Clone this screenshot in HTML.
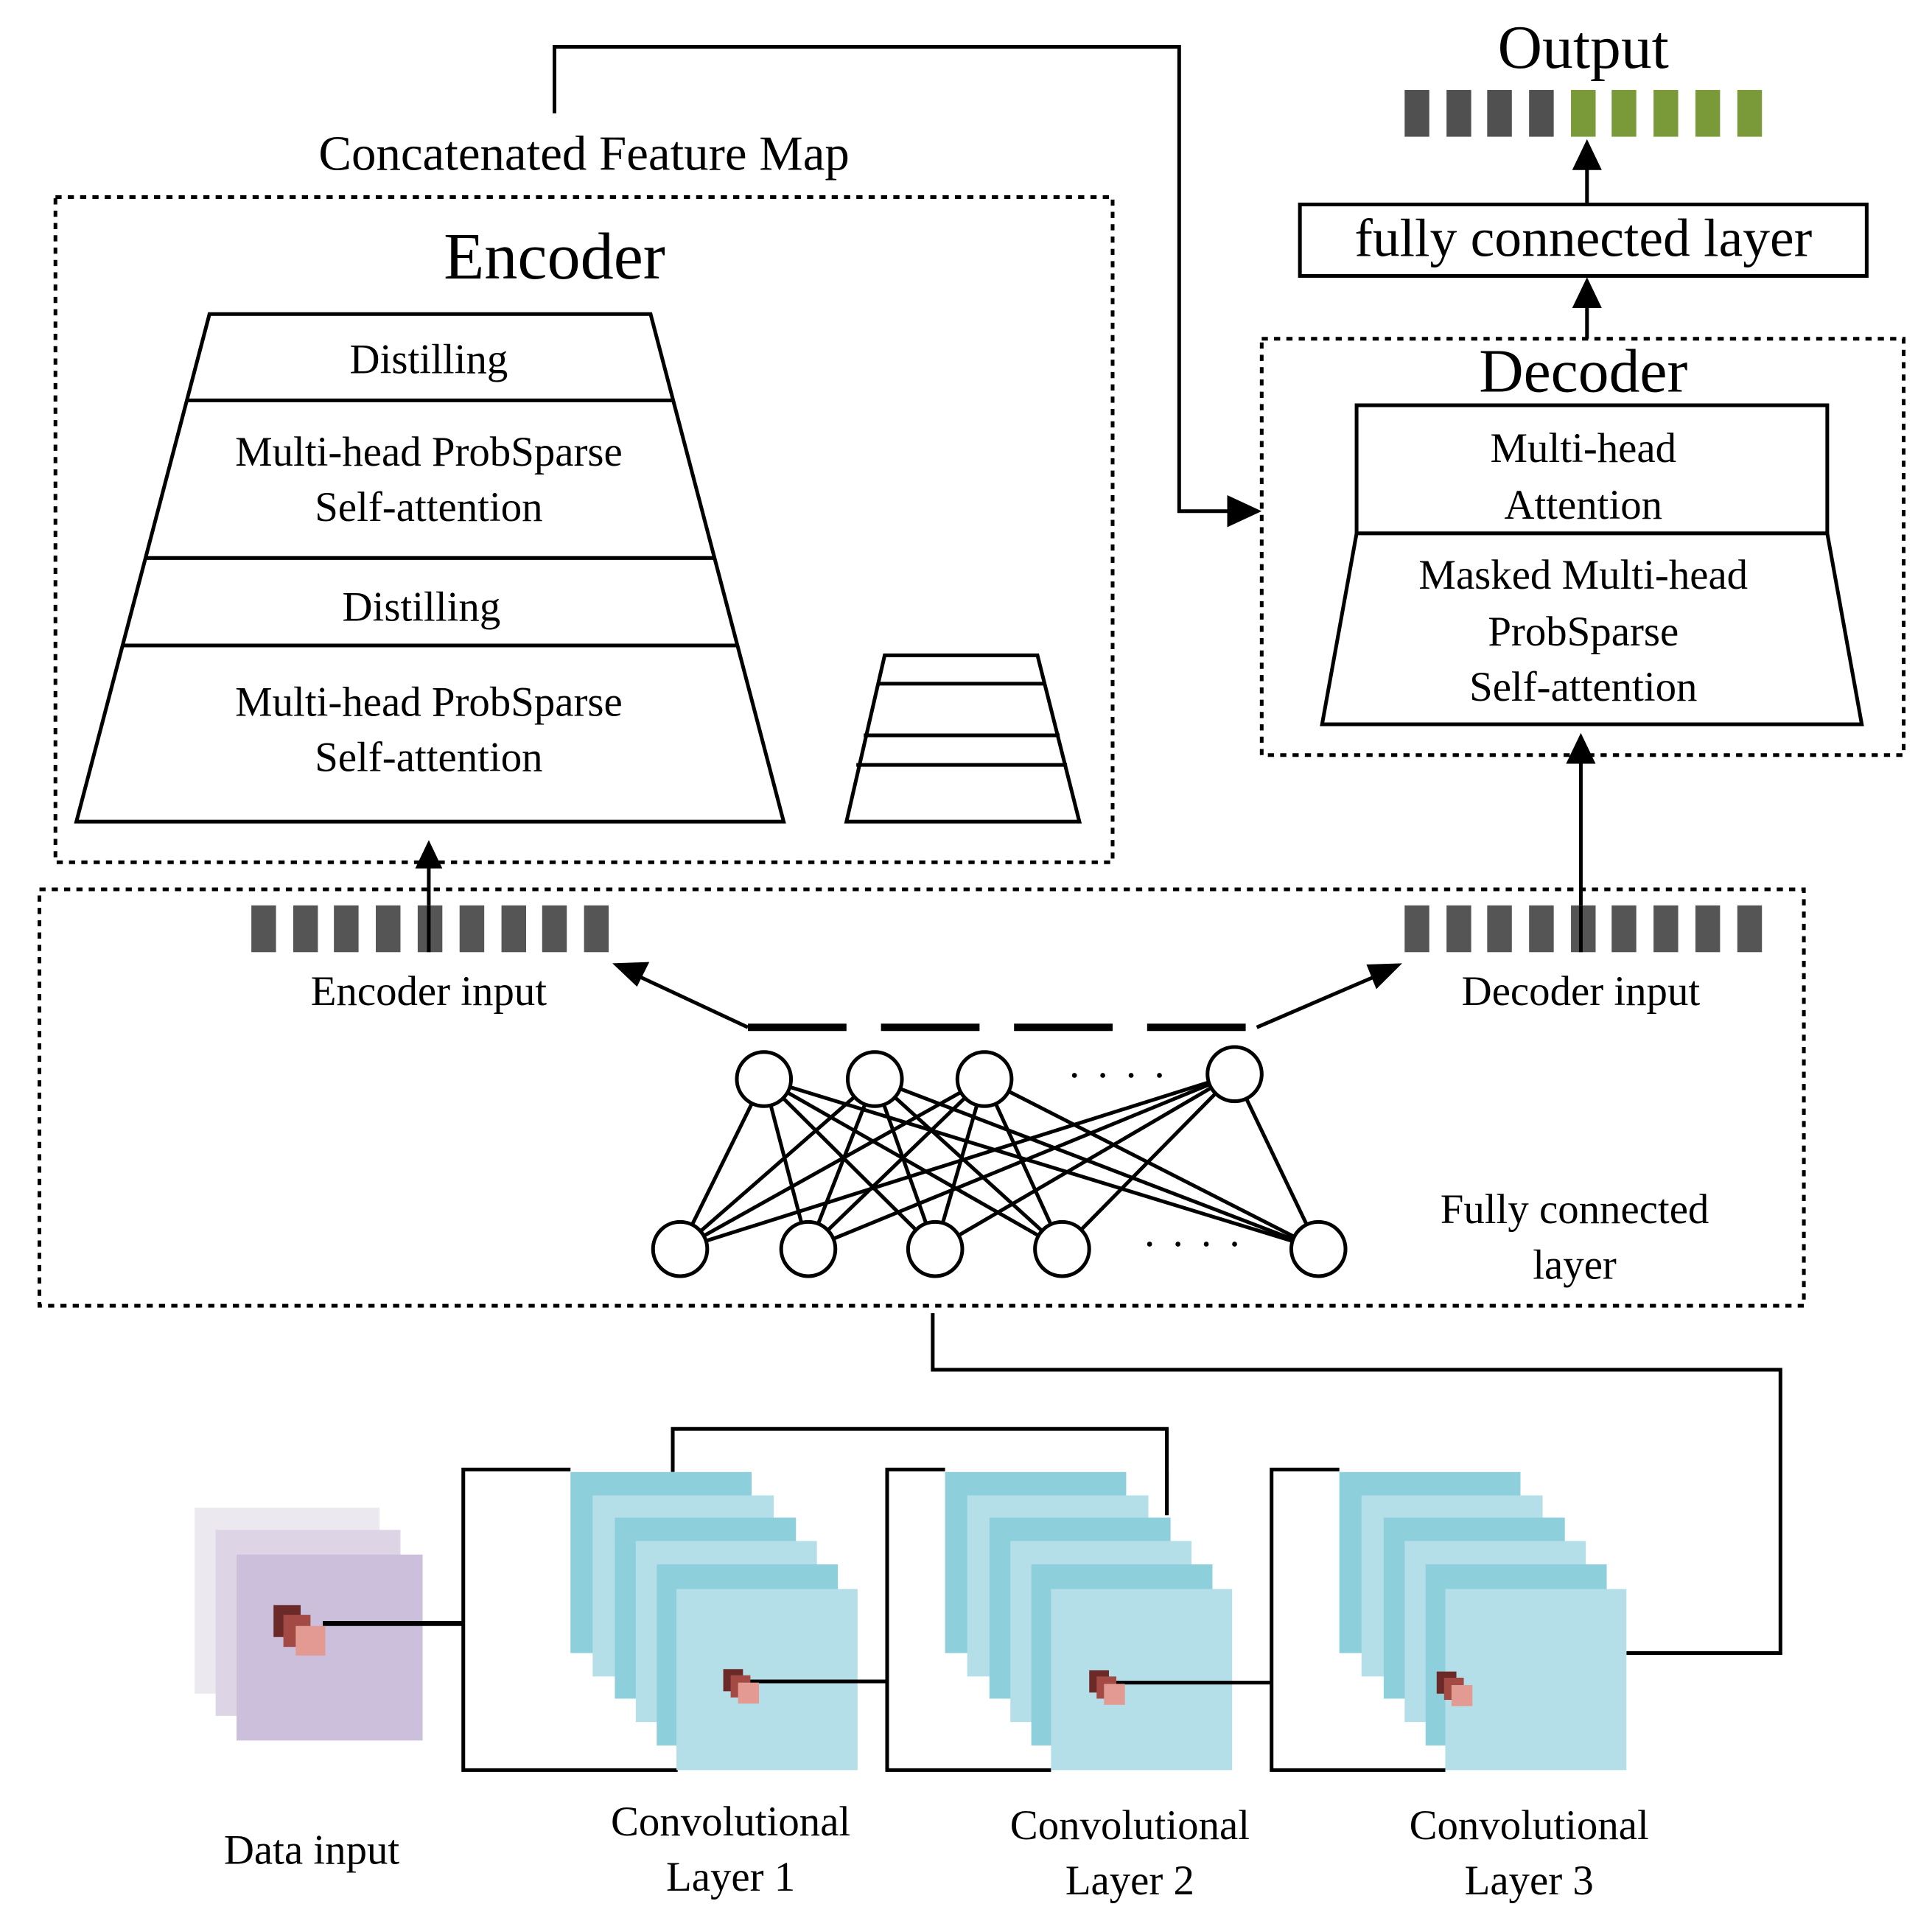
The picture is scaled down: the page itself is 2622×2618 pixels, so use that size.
<!DOCTYPE html>
<html><head><meta charset="utf-8"><style>
html,body{margin:0;padding:0;background:#fff}
svg{display:block}
text{font-family:"Liberation Serif",serif;fill:#000}
</style></head><body>
<svg width="2622" height="2618" viewBox="0 0 1568 1566" preserveAspectRatio="none" xmlns="http://www.w3.org/2000/svg">
<rect width="1568" height="1566" fill="#fff"/>
<polyline points="450,92 450,38 957,38 957,415 996,415" fill="none" stroke="#000" stroke-width="3"/>
<path d="M996,402 L1024,415 L996,428 z"/>
<text x="474" y="138" font-size="40" text-anchor="middle">Concatenated Feature Map</text>
<rect x="45" y="160" width="858" height="540" fill="none" stroke="#000" stroke-width="3" stroke-dasharray="5,5"/>
<text x="450" y="226" font-size="54" text-anchor="middle">Encoder</text>
<polygon points="170,255 528,255 636,667 62,667" fill="#fff" stroke="#000" stroke-width="3"/>
<line x1="152" y1="325" x2="546" y2="325" stroke="#000" stroke-width="3"/>
<line x1="118" y1="453" x2="580" y2="453" stroke="#000" stroke-width="3"/>
<line x1="100" y1="524" x2="598" y2="524" stroke="#000" stroke-width="3"/>
<g font-size="34" text-anchor="middle">
<text x="348" y="303">Distilling</text>
<text x="348" y="378">Multi-head ProbSparse</text>
<text x="348" y="423">Self-attention</text>
<text x="342" y="504">Distilling</text>
<text x="348" y="581">Multi-head ProbSparse</text>
<text x="348" y="626">Self-attention</text>
</g>
<polygon points="718,532 842,532 876,667 687,667" fill="#fff" stroke="#000" stroke-width="3"/>
<line x1="712" y1="555" x2="848" y2="555" stroke="#000" stroke-width="3"/>
<line x1="701" y1="597" x2="860" y2="597" stroke="#000" stroke-width="3"/>
<line x1="695" y1="621" x2="866" y2="621" stroke="#000" stroke-width="3"/>
<text x="1285" y="55" font-size="50" text-anchor="middle">Output</text>
<g fill="#505050">
<rect x="1140" y="73" width="20" height="38"/><rect x="1174" y="73" width="20" height="38"/><rect x="1207" y="73" width="20" height="38"/><rect x="1241" y="73" width="20" height="38"/>
</g>
<g fill="#7a9a3a">
<rect x="1275" y="73" width="20" height="38"/><rect x="1308" y="73" width="20" height="38"/><rect x="1342" y="73" width="20" height="38"/><rect x="1376" y="73" width="20" height="38"/><rect x="1410" y="73" width="20" height="38"/>
</g>
<line x1="1288" y1="166" x2="1288" y2="135" stroke="#000" stroke-width="3"/><path d="M1276,138 L1288,113 L1300,138 z"/>
<rect x="1055" y="166" width="460" height="58" fill="#fff" stroke="#000" stroke-width="3"/>
<text x="1285" y="208" font-size="44" text-anchor="middle">fully connected layer</text>
<line x1="1288" y1="275" x2="1288" y2="248" stroke="#000" stroke-width="3"/><path d="M1276,250 L1288,225 L1300,250 z"/>
<rect x="1024" y="275" width="521" height="338" fill="none" stroke="#000" stroke-width="3" stroke-dasharray="5,5"/>
<text x="1285" y="318" font-size="50" text-anchor="middle">Decoder</text>
<rect x="1101" y="329" width="382" height="104" fill="#fff" stroke="#000" stroke-width="3"/>
<polygon points="1101,433 1483,433 1511,588 1073,588" fill="#fff" stroke="#000" stroke-width="3"/>
<g font-size="34" text-anchor="middle">
<text x="1285" y="375">Multi-head</text>
<text x="1285" y="421">Attention</text>
<text x="1285" y="478">Masked Multi-head</text>
<text x="1285" y="524">ProbSparse</text>
<text x="1285" y="569">Self-attention</text>
</g>
<line x1="1283" y1="735" x2="1283" y2="618" stroke="#000" stroke-width="3"/><path d="M1271,620 L1283,595 L1295,620 z"/>
<line x1="348" y1="735" x2="348" y2="702" stroke="#000" stroke-width="3"/><path d="M337,705 L348,682 L359,705 z"/>
<rect x="32" y="722" width="1432" height="338" fill="none" stroke="#000" stroke-width="3" stroke-dasharray="5,5"/>
<g fill="#555">
<rect x="204" y="735" width="20" height="38"/><rect x="238" y="735" width="20" height="38"/><rect x="271" y="735" width="20" height="38"/><rect x="305" y="735" width="20" height="38"/><rect x="339" y="735" width="20" height="38"/><rect x="373" y="735" width="20" height="38"/><rect x="407" y="735" width="20" height="38"/><rect x="440" y="735" width="20" height="38"/><rect x="474" y="735" width="20" height="38"/>
<rect x="1140" y="735" width="20" height="38"/><rect x="1174" y="735" width="20" height="38"/><rect x="1207" y="735" width="20" height="38"/><rect x="1241" y="735" width="20" height="38"/><rect x="1275" y="735" width="20" height="38"/><rect x="1308" y="735" width="20" height="38"/><rect x="1342" y="735" width="20" height="38"/><rect x="1376" y="735" width="20" height="38"/><rect x="1410" y="735" width="20" height="38"/>
</g>
<line x1="348" y1="735" x2="348" y2="773" stroke="#000" stroke-width="3"/>
<line x1="1283" y1="735" x2="1283" y2="773" stroke="#000" stroke-width="3"/>
<g font-size="34" text-anchor="middle">
<text x="348" y="816">Encoder input</text>
<text x="1283" y="816">Decoder input</text>
</g>
<line x1="607" y1="834" x2="1020" y2="834" stroke="#000" stroke-width="6" stroke-dasharray="80,28"/>
<line x1="607" y1="834" x2="515" y2="791" stroke="#000" stroke-width="3"/><path d="M497,782 L527,781 L517,801 z"/>
<line x1="1020" y1="834" x2="1120" y2="791" stroke="#000" stroke-width="3"/><path d="M1138,782 L1117,803 L1109,783 z"/>
<g stroke="#000" stroke-width="3">
<line x1="620" y1="876" x2="552" y2="1014"/><line x1="620" y1="876" x2="656" y2="1014"/><line x1="620" y1="876" x2="759" y2="1014"/><line x1="620" y1="876" x2="862" y2="1014"/><line x1="620" y1="876" x2="1070" y2="1014"/>
<line x1="710" y1="876" x2="552" y2="1014"/><line x1="710" y1="876" x2="656" y2="1014"/><line x1="710" y1="876" x2="759" y2="1014"/><line x1="710" y1="876" x2="862" y2="1014"/><line x1="710" y1="876" x2="1070" y2="1014"/>
<line x1="799" y1="876" x2="552" y2="1014"/><line x1="799" y1="876" x2="656" y2="1014"/><line x1="799" y1="876" x2="759" y2="1014"/><line x1="799" y1="876" x2="862" y2="1014"/><line x1="799" y1="876" x2="1070" y2="1014"/>
<line x1="1002" y1="872" x2="552" y2="1014"/><line x1="1002" y1="872" x2="656" y2="1014"/><line x1="1002" y1="872" x2="759" y2="1014"/><line x1="1002" y1="872" x2="862" y2="1014"/><line x1="1002" y1="872" x2="1070" y2="1014"/>
</g>
<g fill="#fff" stroke="#000" stroke-width="3">
<circle cx="620" cy="876" r="22"/><circle cx="710" cy="876" r="22"/><circle cx="799" cy="876" r="22"/><circle cx="1002" cy="872" r="22"/>
<circle cx="552" cy="1014" r="22"/><circle cx="656" cy="1014" r="22"/><circle cx="759" cy="1014" r="22"/><circle cx="862" cy="1014" r="22"/><circle cx="1070" cy="1014" r="22"/>
</g>
<g fill="#000"><circle cx="872" cy="873" r="2"/><circle cx="895" cy="873" r="2"/><circle cx="918" cy="873" r="2"/><circle cx="941" cy="873" r="2"/>
<circle cx="933" cy="1010" r="2"/><circle cx="956" cy="1010" r="2"/><circle cx="979" cy="1010" r="2"/><circle cx="1002" cy="1010" r="2"/></g>
<g font-size="34" text-anchor="middle">
<text x="1278" y="993">Fully connected</text>
<text x="1278" y="1038">layer</text>
</g>
<polyline points="757,1066 757,1112 1445,1112 1445,1342 1320,1342" fill="none" stroke="#000" stroke-width="3"/>
<polyline points="546,1195 546,1160 947,1160 947,1230" fill="none" stroke="#000" stroke-width="3"/>
<rect x="158" y="1224" width="150" height="151" fill="#ece8f0"/>
<rect x="175" y="1242" width="150" height="151" fill="#ddd4e5"/>
<rect x="192" y="1262" width="151" height="151" fill="#cbbfdb"/>
<line x1="262" y1="1318" x2="376" y2="1318" stroke="#000" stroke-width="4"/>
<rect x="222" y="1303" width="22" height="26" fill="#6b2a28"/><rect x="230" y="1311" width="22" height="26" fill="#a34a45"/><rect x="240" y="1320" width="24" height="24" fill="#e39a92"/>
<polyline points="463,1193 376,1193 376,1437 550,1437" fill="none" stroke="#000" stroke-width="3"/>
<rect x="463" y="1195" width="147" height="147" fill="#8ecfdc"/>
<rect x="481" y="1214" width="147" height="147" fill="#b5dfe8"/>
<rect x="499" y="1232" width="147" height="147" fill="#8ecfdc"/>
<rect x="516" y="1251" width="147" height="147" fill="#b5dfe8"/>
<rect x="533" y="1270" width="147" height="147" fill="#8ecfdc"/>
<rect x="549" y="1290" width="147" height="147" fill="#b5dfe8"/>
<line x1="600" y1="1365" x2="720" y2="1365" stroke="#000" stroke-width="3"/>
<rect x="587" y="1355" width="16" height="18" fill="#6b2a28"/><rect x="593" y="1360" width="16" height="18" fill="#a34a45"/><rect x="599" y="1366" width="17" height="17" fill="#e39a92"/>
<polyline points="767,1193 720,1193 720,1437 853,1437" fill="none" stroke="#000" stroke-width="3"/>
<rect x="767" y="1195" width="147" height="147" fill="#8ecfdc"/>
<rect x="785" y="1214" width="147" height="147" fill="#b5dfe8"/>
<rect x="803" y="1232" width="147" height="147" fill="#8ecfdc"/>
<rect x="820" y="1251" width="147" height="147" fill="#b5dfe8"/>
<rect x="837" y="1270" width="147" height="147" fill="#8ecfdc"/>
<rect x="853" y="1290" width="147" height="147" fill="#b5dfe8"/>
<line x1="947" y1="1195" x2="947" y2="1230" stroke="#000" stroke-width="3"/>
<line x1="898" y1="1366" x2="1032" y2="1366" stroke="#000" stroke-width="3"/>
<rect x="884" y="1356" width="16" height="18" fill="#6b2a28"/><rect x="890" y="1361" width="16" height="18" fill="#a34a45"/><rect x="896" y="1367" width="17" height="17" fill="#e39a92"/>
<polyline points="1087,1193 1032,1193 1032,1437 1173,1437" fill="none" stroke="#000" stroke-width="3"/>
<rect x="1087" y="1195" width="147" height="147" fill="#8ecfdc"/>
<rect x="1105" y="1214" width="147" height="147" fill="#b5dfe8"/>
<rect x="1123" y="1232" width="147" height="147" fill="#8ecfdc"/>
<rect x="1140" y="1251" width="147" height="147" fill="#b5dfe8"/>
<rect x="1157" y="1270" width="147" height="147" fill="#8ecfdc"/>
<rect x="1173" y="1290" width="147" height="147" fill="#b5dfe8"/>
<rect x="1166" y="1357" width="16" height="18" fill="#6b2a28"/><rect x="1172" y="1362" width="16" height="18" fill="#a34a45"/><rect x="1178" y="1368" width="17" height="17" fill="#e39a92"/>
<g font-size="34" text-anchor="middle">
<text x="253" y="1513">Data input</text>
<text x="593" y="1490">Convolutional</text><text x="593" y="1535">Layer 1</text>
<text x="917" y="1493">Convolutional</text><text x="917" y="1538">Layer 2</text>
<text x="1241" y="1493">Convolutional</text><text x="1241" y="1538">Layer 3</text>
</g>
</svg>
</body></html>
